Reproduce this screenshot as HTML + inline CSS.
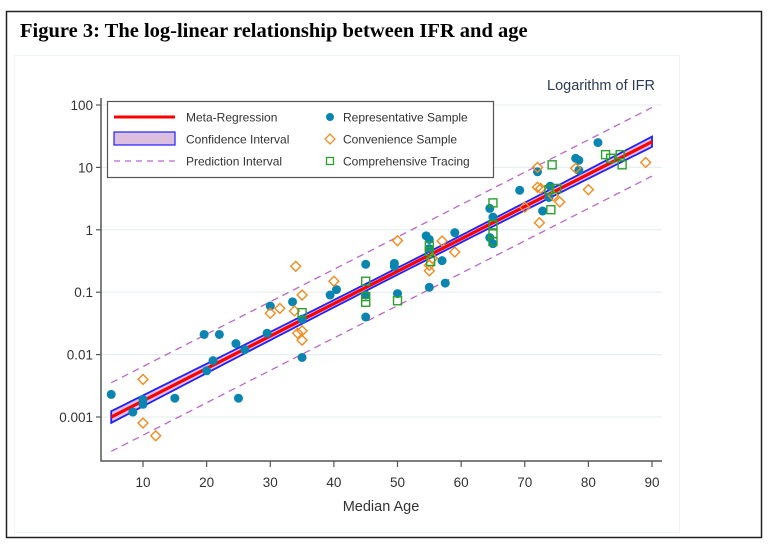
<!DOCTYPE html>
<html><head><meta charset="utf-8"><style>
body{margin:0;background:#fff;width:769px;height:544px;overflow:hidden}
svg text{font-family:"Liberation Sans",Arial,sans-serif}
</style></head><body>
<svg id="chart" width="769" height="544" xmlns="http://www.w3.org/2000/svg">
<rect x="6.5" y="11.5" width="755" height="526" fill="#fff" stroke="#222" stroke-width="1.5"/>
<text x="20" y="37" style="font-family:'Liberation Serif',serif;font-weight:bold;font-size:20.5px" fill="#000">Figure 3: The log-linear relationship between IFR and age</text>
<rect x="14.5" y="55.5" width="665" height="477" fill="#fff" stroke="#eef4f5"/>
<text x="655" y="90" text-anchor="end" font-size="14.5" fill="#2b3a55">Logarithm of IFR</text>
<text x="381" y="511" text-anchor="middle" font-size="14.5" fill="#333">Median Age</text>
<g id="grid"></g><g id="bands"></g><g id="marks"></g><g id="axes"></g>
<g>
<rect x="107.5" y="101.5" width="386" height="76" fill="#fff" stroke="#555" stroke-width="1.2"/>
<line x1="114" y1="117" x2="175" y2="117" stroke="#ff0000" stroke-width="3"/>
<text x="186" y="121.5" font-size="12" fill="#333">Meta-Regression</text>
<rect x="114" y="132" width="61" height="13" fill="#dcbfdf" stroke="#2020ff" stroke-width="1.2"/>
<text x="186" y="143.5" font-size="12" fill="#333">Confidence Interval</text>
<line x1="114" y1="161" x2="175" y2="161" stroke="#bb66cc" stroke-width="1.3" stroke-dasharray="6,5"/>
<text x="186" y="165.5" font-size="12" fill="#333">Prediction Interval</text>
<circle cx="330" cy="117" r="4" fill="#0a85b0"/>
<text x="343" y="121.5" font-size="12" fill="#333">Representative Sample</text>
<rect x="326.5" y="135.5" width="7" height="7" transform="rotate(45 330 139)" fill="none" stroke="#f08c1e" stroke-width="1.3"/>
<text x="343" y="143.5" font-size="12" fill="#333">Convenience Sample</text>
<rect x="326.5" y="157.5" width="7" height="7" fill="none" stroke="#2ca02c" stroke-width="1.3"/>
<text x="343" y="165.5" font-size="12" fill="#333">Comprehensive Tracing</text>
</g>
</svg>
<script>
const xTicks=[10,20,30,40,50,60,70,80,90];
const yTicks=[0.001,0.01,0.1,1,10,100];
const yTickLabels=["0.001","0.01","0.1","1","10","100"];
const regIntercept=-3.26, regSlope=0.0519, piHalf=0.55;
const repAge=[5,8.4,10,10,15,19.6,20,21,22,24.6,25,26,29.5,30,33.5,35,35,39.4,40.4,45,45,45,50,49.5,49.5,54.5,55,55,55,57.5,57,59,64.5,65,64.5,65,69.2,72,73.8,74,72.8,78,78.5,81.5,78.5];
const repIfr=[0.0023,0.0012,0.0019,0.0016,0.002,0.021,0.0055,0.008,0.021,0.015,0.002,0.012,0.022,0.06,0.07,0.009,0.037,0.09,0.11,0.04,0.28,0.09,0.095,0.29,0.26,0.8,0.7,0.5,0.12,0.14,0.32,0.9,0.75,0.6,2.2,1.6,4.3,8.5,3.3,5,2,14,13,25,9];
const conAge=[10,10,12,30,31.5,34,33.8,35,34.3,35,35,40,50,55,55.5,55,57,59,70,72,72,72.3,72.5,74.5,75.5,78,80,89];
const conIfr=[0.004,0.0008,0.0005,0.046,0.055,0.26,0.05,0.09,0.022,0.024,0.017,0.15,0.67,0.27,0.35,0.22,0.66,0.44,2.3,10,4.8,1.3,4.6,3.5,2.8,9.7,4.4,12];
const comAge=[35,45,45,45,50,55,55,55.2,65,65,65,65,74.3,74.1,73.8,75,82.7,83.5,85,85.3];
const comIfr=[0.047,0.15,0.085,0.069,0.073,0.55,0.45,0.31,2.7,1.2,0.86,0.65,11,2.1,4.4,4.6,16,14,16,11];

const NS="http://www.w3.org/2000/svg";
const X=a=>79.4+a*6.3625;
const Y=v=>105+(2-Math.log10(v))*62.4;
const YL=l=>105+(2-l)*62.4;
function mk(tag,attrs,parent){const e=document.createElementNS(NS,tag);for(const k in attrs)e.setAttribute(k,attrs[k]);document.getElementById(parent).appendChild(e);return e;}
const L=101,R=662,B=461;
yTicks.forEach((t,i)=>{
 const g=mk('line',{x1:L,x2:R,y1:Y(t),y2:Y(t),stroke:'#e6eff1','stroke-width':1.2},'grid');
 
 const tk=mk('line',{x1:L-5,x2:L,y1:Y(t),y2:Y(t),stroke:'#555','stroke-width':1.2},'axes');
 
 const tx=mk('text',{x:L-8,y:Y(t)+5,'text-anchor':'end','font-size':13.5,fill:'#333'},'axes');
 tx.textContent=yTickLabels[i];
 
});
xTicks.forEach(t=>{
 const tk=mk('line',{x1:X(t),x2:X(t),y1:B,y2:B+6,stroke:'#555','stroke-width':1.2},'axes');
 
 const tx=mk('text',{x:X(t),y:B+26,'text-anchor':'middle','font-size':13.5,fill:'#333'},'axes');
 tx.textContent=t;
 
});
const ax=mk('path',{d:`M${L} 98 V${B} H${R}`,fill:'none',stroke:'#555','stroke-width':1.5},'axes');

const a0=5,a1=90,ages=[];for(let a=a0;a<=a1;a+=1)ages.push(a);
const hw=a=>Math.sqrt(0.055*0.055+Math.pow(0.0016*(a-52),2));
let up=ages.map(a=>`${X(a)},${YL(regIntercept+regSlope*a+hw(a))}`),lo=ages.slice().reverse().map(a=>`${X(a)},${YL(regIntercept+regSlope*a-hw(a))}`);
const ci=mk('polygon',{points:up.concat(lo).join(' '),fill:'#dcbfdf',stroke:'#2020ff','stroke-width':1.8},'bands');

[piHalf,-piHalf].forEach(o=>{
 const p=mk('line',{x1:X(a0),y1:YL(regIntercept+regSlope*a0+o),x2:X(a1),y2:YL(regIntercept+regSlope*a1+o),stroke:'#bb66cc','stroke-width':1.3,'stroke-dasharray':'7,5'},'bands');
 
});
const rl=mk('line',{x1:X(a0),y1:YL(regIntercept+regSlope*a0),x2:X(a1),y2:YL(regIntercept+regSlope*a1),stroke:'#ff0000','stroke-width':3.2},'bands');

repAge.forEach((a,i)=>{
 const c=mk('circle',{cx:X(a),cy:Y(repIfr[i]),r:4.5,fill:'#0a85b0'},'marks');
 
});
conAge.forEach((a,i)=>{
 const x=X(a),y=Y(conIfr[i]);
 const d=mk('rect',{x:x-3.5,y:y-3.5,width:7,height:7,transform:`rotate(45 ${x} ${y})`,fill:'none',stroke:'#f08c1e','stroke-width':1.4},'marks');
 
});
comAge.forEach((a,i)=>{
 const x=X(a),y=Y(comIfr[i]);
 const s=mk('rect',{x:x-4,y:y-4,width:8,height:8,fill:'none',stroke:'#2ca02c','stroke-width':1.4},'marks');
 
});
</script>
</body></html>
